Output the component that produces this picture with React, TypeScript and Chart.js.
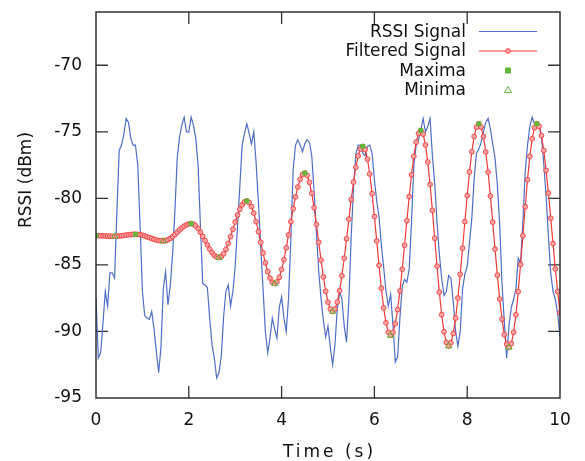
import React, { useEffect, useRef } from "react";
import { Chart, registerables } from "chart.js";
Chart.register(...registerables);

// sample interval of both signals (seconds)
const SAMPLE_STEP = 0.05;

// raw RSSI samples (dBm), one every 0.05 s from t = 0 to t = 10
const RSSI_SIGNAL = [
  -87.5, -92.0, -91.6, -89.4, -87.0, -88.1, -85.6, -85.6, -86.0, -81.0,
  -76.4, -76.0, -75.2, -74.0, -74.3, -75.5, -76.0, -76.0, -77.5, -82.0,
  -87.0, -88.8, -89.0, -89.1, -88.5, -89.8, -91.5, -93.1, -91.2, -86.8,
  -85.5, -88.0, -86.6, -84.2, -81.0, -77.0, -75.4, -74.5, -73.9, -75.0,
  -75.0, -73.9, -74.5, -75.5, -77.5, -82.0, -86.4, -86.5, -86.7, -89.0,
  -91.0, -92.0, -93.5, -93.1, -91.9, -88.9, -87.0, -86.5, -88.1, -87.0,
  -85.1, -82.1, -79.1, -76.0, -75.1, -74.4, -75.1, -75.9, -75.0, -77.3,
  -80.3, -83.6, -86.8, -90.0, -91.6, -90.5, -89.0, -89.8, -90.5, -88.2,
  -87.4, -89.0, -90.0, -87.5, -83.0, -77.8, -76.0, -75.6, -76.0, -76.5,
  -75.9, -75.6, -75.8, -76.8, -79.5, -82.5, -85.5, -87.5, -89.2, -90.4,
  -89.6, -91.2, -92.5, -91.0, -88.3, -87.0, -87.6, -89.6, -90.8, -87.6,
  -82.9, -79.2, -76.7, -76.0, -76.0, -76.6, -76.8, -76.1, -76.0, -76.6,
  -78.6, -80.2, -81.4, -83.5, -85.2, -87.0, -88.1, -87.2, -89.5, -92.3,
  -91.9, -89.0, -86.6, -86.1, -86.3, -85.3, -81.8, -77.5, -76.0, -75.6,
  -74.9, -74.0, -75.0, -74.6, -74.0, -76.8, -78.9, -81.8, -84.2, -86.0,
  -87.3, -87.0, -85.8, -86.0, -87.8, -90.0, -91.1, -90.0, -86.8, -85.7,
  -85.1, -83.3, -81.5, -78.5, -76.6, -76.3, -75.8, -75.0, -74.3, -74.0,
  -74.8, -75.9, -77.0, -79.0, -82.0, -86.4, -89.3, -92.0, -89.6, -88.2,
  -87.6, -86.8, -84.5, -84.9, -81.8, -78.0, -76.0, -74.6, -73.9, -74.4,
  -74.5, -74.4, -75.3, -77.4, -79.8, -82.8, -85.6, -87.0, -87.6, -88.7,
  -90.4,
];

// filtered signal (dBm), same sampling
const FILTERED_SIGNAL = [
  -82.8, -82.8, -82.81, -82.82, -82.83, -82.84, -82.85, -82.85, -82.85,
  -82.85, -82.83, -82.81, -82.79, -82.76, -82.74, -82.72, -82.7, -82.7,
  -82.71, -82.73, -82.77, -82.83, -82.89, -82.95, -83.01, -83.08, -83.13, -83.17, -83.19, -83.2,
  -83.18, -83.11, -83.01, -82.88, -82.72, -82.55, -82.38, -82.23, -82.09, -81.99, -81.92, -81.9,
  -81.94, -82.07, -82.27, -82.54, -82.85, -83.18, -83.5, -83.81, -84.08, -84.28, -84.41, -84.45,
  -84.38, -84.17, -83.83, -83.39, -82.87, -82.33, -81.78, -81.26, -80.82, -80.49, -80.27, -80.2,
  -80.31, -80.62, -81.11, -81.75, -82.5, -83.3, -84.1, -84.85, -85.5, -85.99, -86.3, -86.4,
  -86.28, -85.93, -85.35, -84.61, -83.72, -82.75, -81.75, -80.78, -79.89, -79.15, -78.57, -78.22, -78.1,
  -78.28, -78.8, -79.62, -80.7, -81.96, -83.3, -84.64, -85.9, -86.98, -87.8, -88.32, -88.5,
  -88.31, -87.79, -86.94, -85.82, -84.5, -83.04, -81.56, -80.1, -78.78, -77.66, -76.81, -76.29, -76.1,
  -76.34, -77.05, -78.17, -79.65, -81.37, -83.2, -85.03, -86.75, -88.23, -89.35, -90.06, -90.3,
  -90.07, -89.42, -88.36, -86.97, -85.33, -83.52, -81.68, -79.87, -78.23, -76.84, -75.78, -75.13, -74.9,
  -75.18, -75.99, -77.27, -78.95, -80.91, -83.0, -85.09, -87.05, -88.74, -90.02, -90.83, -91.1,
  -90.85, -90.15, -89.0, -87.49, -85.71, -83.75, -81.75, -79.79, -78.01, -76.5, -75.35, -74.65, -74.4,
  -74.65, -75.36, -76.52, -78.03, -79.83, -81.79, -83.81, -85.77, -87.57, -89.08, -90.24, -90.95, -91.2,
  -90.91, -90.07, -88.75, -87.0, -84.97, -82.8, -80.63, -78.6, -76.85, -75.53, -74.69, -74.4,
  -74.6, -75.3, -76.4, -77.9, -79.6, -81.5, -83.4, -85.3, -87.0, -88.6,
];

const MAXIMA_T = [0, 0.85, 2.05, 3.25, 4.5, 5.75, 7.0, 8.25, 9.5];
const MAXIMA_V = [-82.8, -82.7, -81.9, -80.2, -78.1, -76.1, -74.9, -74.4, -74.4];
const MINIMA_T = [0.4, 1.45, 2.65, 3.85, 5.1, 6.35, 7.6, 8.9];
const MINIMA_V = [-82.85, -83.2, -84.45, -86.4, -88.5, -90.3, -91.1, -91.2];

const X_TICKS = [0, 2, 4, 6, 8, 10];
const Y_TICKS = [-95, -90, -85, -80, -75, -70];
const X_RANGE = [0, 10];
const Y_RANGE = [-95, -66];

const LEGEND_LABELS = ["RSSI Signal", "Filtered Signal", "Maxima", "Minima"];
const X_TITLE = "Time (s)";
const Y_TITLE = "RSSI (dBm)";

const BLUE = "#4f6ec6";
const RED = "#f03a3a";
const RED_FILL = "rgba(255,165,165,0.95)";
const GREEN = "#62b83a";
const FONT = "'DejaVu Sans', sans-serif";

const framePlugin = {
  id: "frameAndTicks",
  beforeDatasetsDraw(chart: any) {
    const { ctx, chartArea: a, scales } = chart;
    ctx.save();
    ctx.strokeStyle = "#333";
    ctx.lineWidth = 1.3;
    const L = 12;
    ctx.beginPath();
    X_TICKS.forEach((v) => {
      const x = scales.x.getPixelForValue(v);
      if (Math.abs(x - a.left) < 1 || Math.abs(x - a.right) < 1) return;
      ctx.moveTo(x, a.bottom);
      ctx.lineTo(x, a.bottom - L);
      ctx.moveTo(x, a.top);
      ctx.lineTo(x, a.top + L);
    });
    Y_TICKS.forEach((v) => {
      const y = scales.y.getPixelForValue(v);
      if (Math.abs(y - a.bottom) < 1 || Math.abs(y - a.top) < 1) return;
      ctx.moveTo(a.left, y);
      ctx.lineTo(a.left + L, y);
      ctx.moveTo(a.right, y);
      ctx.lineTo(a.right - L, y);
    });
    ctx.stroke();
    ctx.restore();
  },
  afterDraw(chart: any) {
    const { ctx, chartArea: a } = chart;
    ctx.save();
    // frame
    ctx.strokeStyle = "#222";
    ctx.lineWidth = 1.4;
    ctx.strokeRect(a.left, a.top, a.right - a.left, a.bottom - a.top);

    // axis titles
    ctx.fillStyle = "#111";
    ctx.font = `17px ${FONT}`;
    ctx.textAlign = "center";
    ctx.textBaseline = "alphabetic";
    try { (ctx as any).letterSpacing = "3px"; } catch (e) {}
    ctx.fillText(X_TITLE, (a.left + a.right) / 2 + 1.5, 457);
    try { (ctx as any).letterSpacing = "0px"; } catch (e) {}
    ctx.save();
    ctx.translate(31, 180);
    ctx.rotate(-Math.PI / 2);
    ctx.fillText(Y_TITLE, 0, 0);
    ctx.restore();

    // legend
    const textRight = 466;
    const rowsY = [31.5, 51, 70.5, 90];
    const sx0 = 479, sx1 = 537, sxm = 508;
    ctx.textAlign = "right";
    ctx.textBaseline = "middle";
    LEGEND_LABELS.forEach((lbl, i) => {
      ctx.fillText(lbl, textRight, rowsY[i] + 1);
    });
    ctx.lineWidth = 1.2;
    ctx.strokeStyle = BLUE;
    ctx.beginPath();
    ctx.moveTo(sx0, rowsY[0]);
    ctx.lineTo(sx1, rowsY[0]);
    ctx.stroke();
    ctx.strokeStyle = RED;
    ctx.beginPath();
    ctx.moveTo(sx0, rowsY[1]);
    ctx.lineTo(sx1, rowsY[1]);
    ctx.stroke();
    ctx.fillStyle = RED_FILL;
    ctx.lineWidth = 0.9;
    ctx.beginPath();
    ctx.arc(sxm, rowsY[1], 2.4, 0, Math.PI * 2);
    ctx.fill();
    ctx.stroke();
    ctx.fillStyle = GREEN;
    ctx.fillRect(sxm - 3, rowsY[2] - 3, 6, 6);
    ctx.strokeStyle = GREEN;
    ctx.lineWidth = 1;
    ctx.beginPath();
    ctx.moveTo(sxm, rowsY[3] - 3.5);
    ctx.lineTo(sxm + 3.5, rowsY[3] + 2.5);
    ctx.lineTo(sxm - 3.5, rowsY[3] + 2.5);
    ctx.closePath();
    ctx.stroke();
    ctx.restore();
  },
};

export default function App() {
  const ref = useRef<HTMLCanvasElement | null>(null);
  useEffect(() => {
    document.body.style.margin = "0";
    const canvas = ref.current;
    if (!canvas) return;
    const rssiPts = RSSI_SIGNAL.map((v, i) => ({ x: i * SAMPLE_STEP, y: v }));
    const filtPts = FILTERED_SIGNAL.map((v, i) => ({ x: i * SAMPLE_STEP, y: v }));
    const maxPts = MAXIMA_T.map((t, i) => ({ x: t, y: MAXIMA_V[i] }));
    const minPts = MINIMA_T.map((t, i) => ({ x: t, y: MINIMA_V[i] }));
    const tickFont = { family: FONT, size: 17 };
    const chart = new Chart(canvas, {
      type: "scatter",
      data: {
        datasets: [
          {
            label: LEGEND_LABELS[0],
            data: rssiPts,
            showLine: true,
            borderColor: BLUE,
            borderWidth: 1.2,
            pointRadius: 0,
            order: 3,
          },
          {
            label: LEGEND_LABELS[1],
            data: filtPts,
            showLine: true,
            borderColor: RED,
            borderWidth: 1.2,
            pointRadius: 2.4,
            pointBorderWidth: 0.9,
            pointBorderColor: RED,
            pointBackgroundColor: RED_FILL,
            order: 2,
          },
          {
            label: LEGEND_LABELS[2],
            data: maxPts,
            pointStyle: "rect",
            pointRadius: 3.4,
            pointBorderWidth: 0,
            pointBackgroundColor: GREEN,
            pointBorderColor: GREEN,
            order: 1,
          },
          {
            label: LEGEND_LABELS[3],
            data: minPts,
            pointStyle: "triangle",
            pointRadius: 3.6,
            pointBorderWidth: 1,
            pointBackgroundColor: "rgba(0,0,0,0)",
            pointBorderColor: GREEN,
            order: 0,
          },
        ] as any,
      },
      options: {
        animation: false,
        responsive: false,
        maintainAspectRatio: false,
        events: [],
        layout: { padding: { top: 12, right: 25, left: 0, bottom: 0 } },
        plugins: { legend: { display: false }, tooltip: { enabled: false } },
        scales: {
          x: {
            type: "linear",
            min: X_RANGE[0],
            max: X_RANGE[1],
            afterBuildTicks: (s: any) => {
              s.ticks = X_TICKS.map((v) => ({ value: v }));
            },
            afterFit: (s: any) => {
              s.height = 63;
              s.paddingLeft = 0;
              s.paddingRight = 0;
            },
            grid: { display: false, drawTicks: false },
            border: { display: false },
            ticks: { font: tickFont, color: "#111", padding: 12, maxRotation: 0, autoSkip: false },
          },
          y: {
            type: "linear",
            min: Y_RANGE[0],
            max: Y_RANGE[1],
            afterBuildTicks: (s: any) => {
              s.ticks = Y_TICKS.map((v) => ({ value: v }));
            },
            afterFit: (s: any) => {
              s.width = 96;
              s.paddingTop = 0;
              s.paddingBottom = 0;
            },
            grid: { display: false, drawTicks: false },
            border: { display: false },
            ticks: { font: tickFont, color: "#111", padding: 14, autoSkip: false },
          },
        },
      } as any,
      plugins: [framePlugin],
    });
    return () => chart.destroy();
  }, []);
  return (
    <div style={{ width: 585, height: 461, position: "relative" }}>
      <canvas ref={ref} width={585} height={461} style={{ width: 585, height: 461, display: "block" }} />
    </div>
  );
}
